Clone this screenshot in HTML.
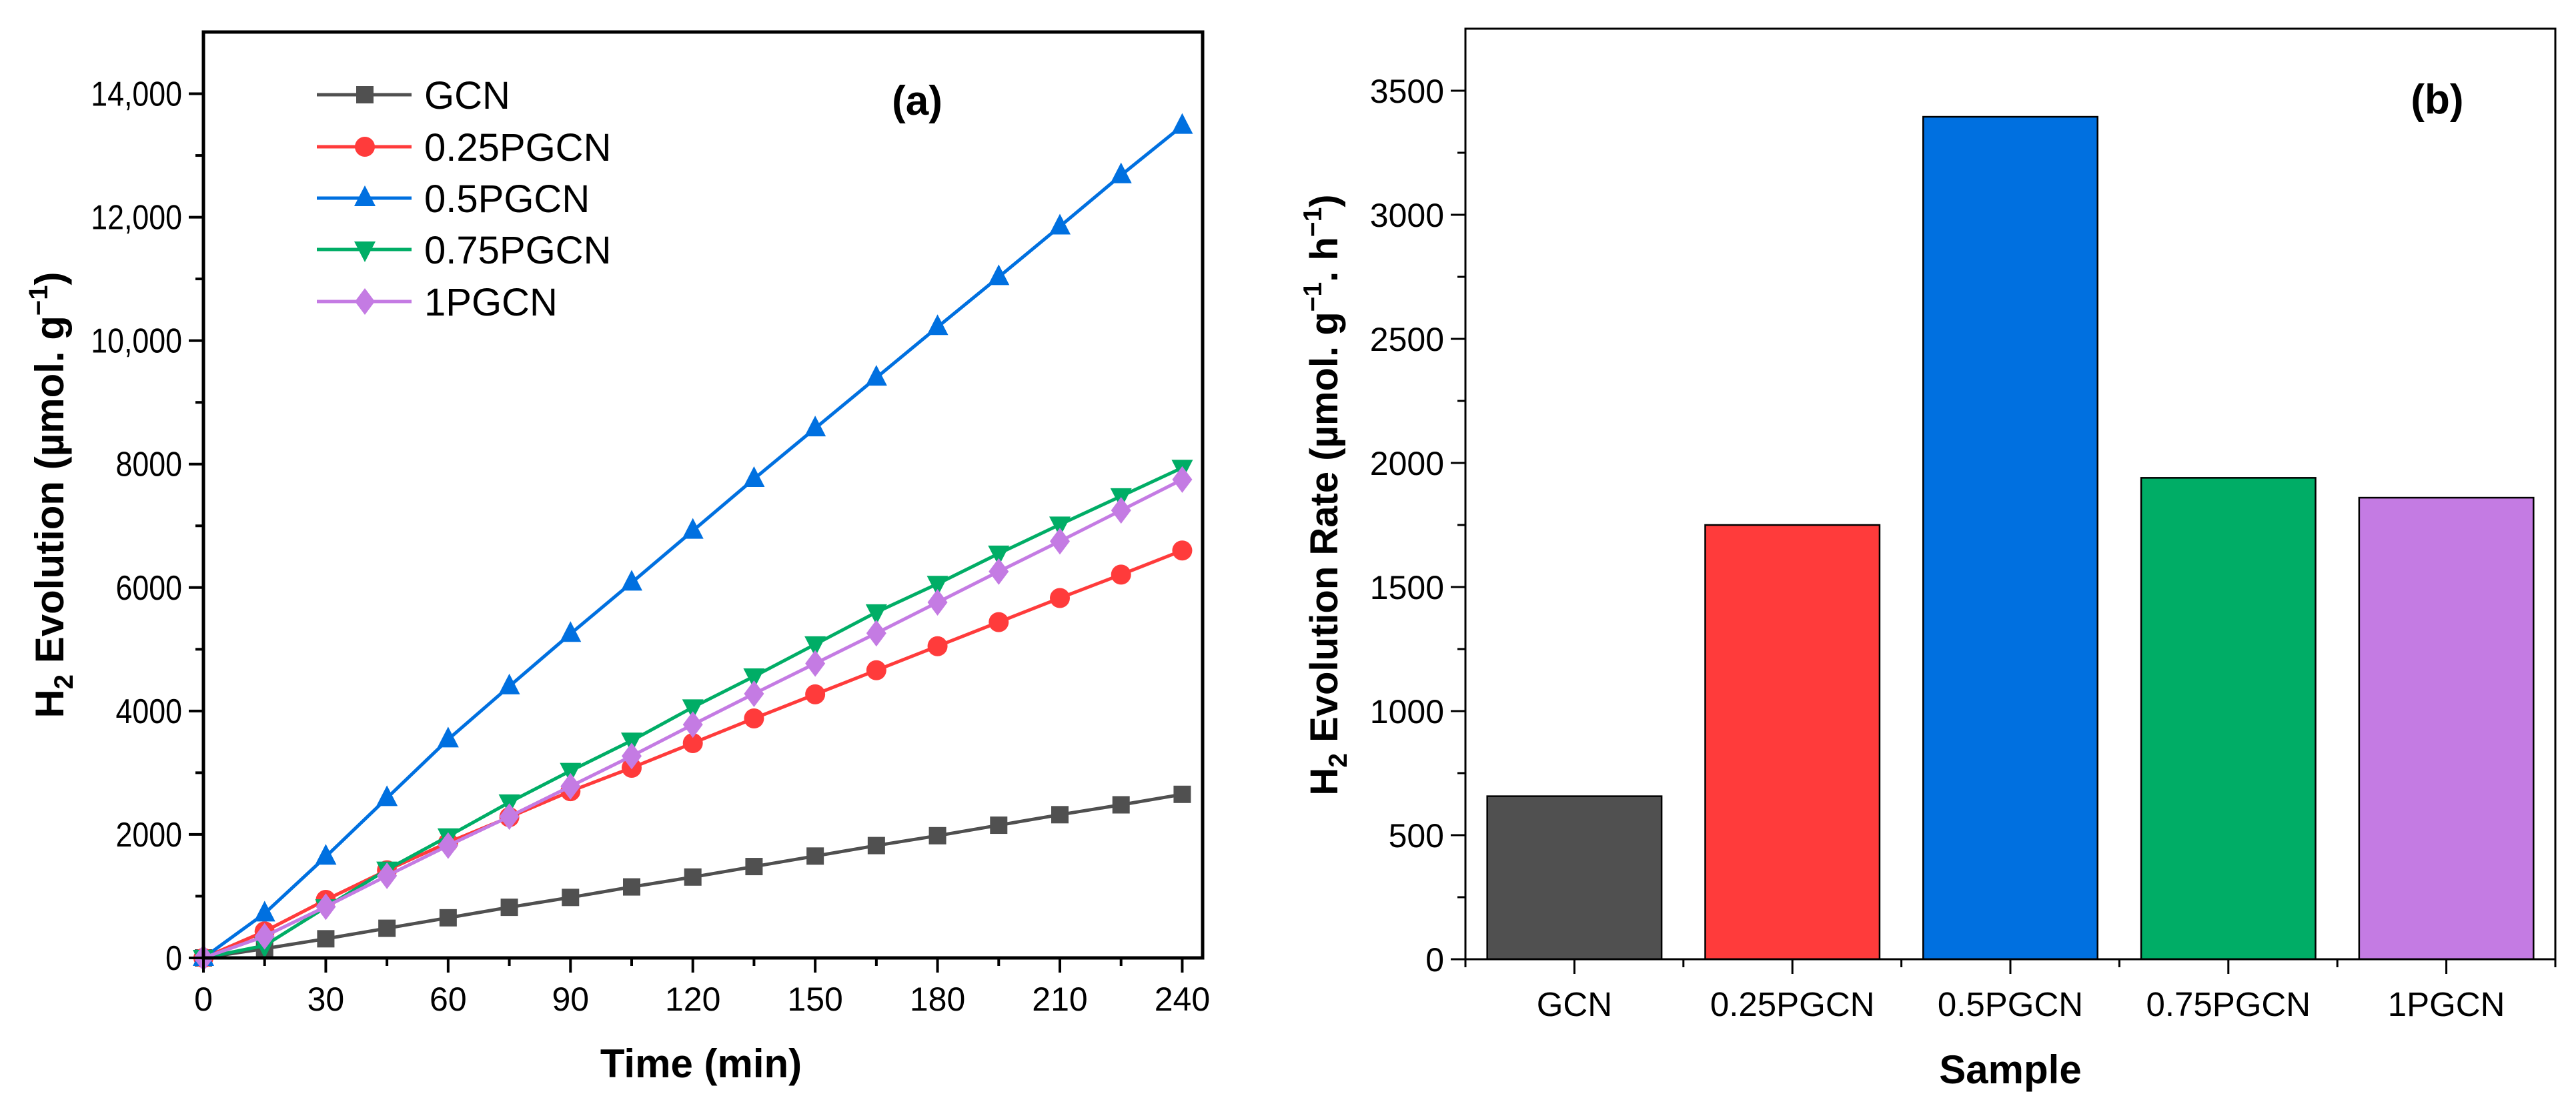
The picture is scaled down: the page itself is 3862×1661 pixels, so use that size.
<!DOCTYPE html>
<html><head><meta charset="utf-8"><style>
body{margin:0;background:#fff}
svg{display:block}
text{font-family:"Liberation Sans",Arial,sans-serif;fill:#000}
</style></head><body>
<svg id="c" width="3862" height="1661" viewBox="0 0 3862 1661" xmlns="http://www.w3.org/2000/svg"></svg>
<script>
const times=[0,15,30,45,60,75,90,105,120,135,150,165,180,195,210,225,240];
const gcn=[0,150,310,480,650,820,980,1150,1310,1480,1650,1820,1980,2150,2320,2480,2650];
const p025=[0,430,940,1420,1870,2280,2700,3080,3480,3880,4270,4660,5050,5440,5830,6210,6600];
const p05=[0,720,1640,2590,3540,4400,5250,6080,6920,7760,8580,9400,10220,11030,11850,12680,13480];
const p075=[0,200,820,1430,1970,2520,3030,3520,4060,4560,5080,5600,6060,6550,7020,7480,7940];
const p1=[0,350,830,1330,1820,2290,2780,3270,3780,4280,4770,5260,5760,6260,6750,7250,7750];
const seriesNames=["GCN","0.25PGCN","0.5PGCN","0.75PGCN","1PGCN"];
const xTicksA=[0,30,60,90,120,150,180,210,240];
const yTicksA=[0,2000,4000,6000,8000,10000,12000,14000];
const yTickLabelsA=["0","2000","4000","6000","8000","10,000","12,000","14,000"];
const barCats=["GCN","0.25PGCN","0.5PGCN","0.75PGCN","1PGCN"];
const barVals=[657,1750,3395,1940,1860];
const yTicksB=[0,500,1000,1500,2000,2500,3000,3500];

const NS="http://www.w3.org/2000/svg";
const svg=document.getElementById('c');
function el(tag,attrs,parent){const e=document.createElementNS(NS,tag);for(const k in attrs)e.setAttribute(k,attrs[k]);(parent||svg).appendChild(e);return e;}
function txt(s,attrs,parent){const e=el('text',attrs,parent);e.textContent=s;return e;}
const colors=["#505050","#ff3b3b","#0070e0","#00ad66","#c47be3"];
const seriesData=[gcn,p025,p05,p075,p1];
const markers=["square","circle","up","down","diamond"];

// ---- Plot A ----
const A={l:305,r:1803,t:48,b:1436,x0:0,x1:245,y0:0,y1:15000};
const ax=v=>A.l+(v-A.x0)/(A.x1-A.x0)*(A.r-A.l);
const ay=v=>A.b-(v-A.y0)/(A.y1-A.y0)*(A.b-A.t);
const gA=el('g',{});


function marker(type,x,y,c,g){
  let m;
  if(type==="square") m=el('rect',{x:x-13,y:y-13,width:26,height:26,fill:c},g);
  else if(type==="circle") m=el('circle',{cx:x,cy:y,r:15,fill:c},g);
  else if(type==="up") m=el('polygon',{points:`${x},${y-19} ${x-16},${y+12} ${x+16},${y+12}`,fill:c},g);
  else if(type==="down") m=el('polygon',{points:`${x},${y+19} ${x-16},${y-12} ${x+16},${y-12}`,fill:c},g);
  else m=el('polygon',{points:`${x},${y-20} ${x+15},${y} ${x},${y+20} ${x-15},${y}`,fill:c},g);
  return m;
}
// series
seriesData.forEach((d,i)=>{
  const g=el('g',{},gA);
  
  
  const pts=d.map((v,j)=>ax(times[j])+','+ay(v)).join(' ');
  el('polyline',{points:pts,fill:'none',stroke:colors[i],'stroke-width':5},g);
  d.forEach((v,j)=>{const m=marker(markers[i],ax(times[j]),ay(v),colors[i],g);
    
    });
});
// frame
const fA=el('rect',{x:A.l,y:A.t,width:A.r-A.l,height:A.b-A.t,fill:'none',stroke:'#000','stroke-width':5},gA);


// x ticks
for(let t=0;t<=240;t+=15){const major=t%30===0;el('line',{x1:ax(t),x2:ax(t),y1:A.b,y2:A.b+(major?22:12),stroke:'#000','stroke-width':4},gA);}
xTicksA.forEach(t=>{const e=txt(String(t),{x:ax(t),y:1515,'font-size':50,'text-anchor':'middle'},gA);
  
  });
// y ticks
for(let v=0;v<=14000;v+=1000){const major=v%2000===0;el('line',{x1:A.l,x2:A.l-(major?22:12),y1:ay(v),y2:ay(v),stroke:'#000','stroke-width':4},gA);}
yTicksA.forEach((v,i)=>{const e=txt(yTickLabelsA[i],{x:0,y:0,'font-size':52,'text-anchor':'end',transform:`translate(${A.l-32},${ay(v)+18}) scale(0.86,1)`},gA);
  
  });
// titles
let e=txt('Time (min)',{x:1051,y:1615,'font-size':60,'font-weight':'bold','text-anchor':'middle'},gA);


e=el('text',{'font-size':60,'font-weight':'bold','text-anchor':'middle',transform:`translate(95,742) rotate(-90)`},gA);
e.innerHTML='H<tspan font-size="40" dy="14">2</tspan><tspan dy="-14"> Evolution (µmol. g</tspan><tspan font-size="40" dy="-24">−1</tspan><tspan dy="24">)</tspan>';


e=txt('(a)',{x:1375,y:172,'font-size':62,'font-weight':'bold','text-anchor':'middle'},gA);


// legend
const lg=el('g',{},gA);


const legY=[142,220,297,374,452];
seriesNames.forEach((n,i)=>{const g=el('g',{},lg);
  
  
  el('line',{x1:475,x2:617,y1:legY[i],y2:legY[i],stroke:colors[i],'stroke-width':5},g);
  marker(markers[i],547,legY[i],colors[i],g);
  txt(n,{x:636,y:legY[i]+21,'font-size':58},g);});

// ---- Plot B ----
const B={l:2197,r:3831,t:43,b:1438,y0:0,y1:3750};
const by=v=>B.b-(v-B.y0)/(B.y1-B.y0)*(B.b-B.t);
const step=(B.r-B.l)/barCats.length;
const bx=i=>B.l+step*(i+0.5);
const gB=el('g',{});


barVals.forEach((v,i)=>{const w=step*0.8;
  const r=el('rect',{x:bx(i)-w/2,y:by(v),width:w,height:B.b-by(v),fill:colors[i],stroke:'#000','stroke-width':2.5},gB);
  
  });
const fB=el('rect',{x:B.l,y:B.t,width:B.r-B.l,height:B.b-B.t,fill:'none',stroke:'#000','stroke-width':3},gB);


for(let v=0;v<=3500;v+=250){const major=v%500===0;el('line',{x1:B.l,x2:B.l-(major?22:12),y1:by(v),y2:by(v),stroke:'#000','stroke-width':3},gB);}
yTicksB.forEach(v=>{const t=txt(String(v),{x:B.l-32,y:by(v)+18,'font-size':50,'text-anchor':'end'},gB);
  
  });
barCats.forEach((c,i)=>{el('line',{x1:bx(i),x2:bx(i),y1:B.b,y2:B.b+22,stroke:'#000','stroke-width':3},gB);
  el('line',{x1:B.l+step*i,x2:B.l+step*i,y1:B.b,y2:B.b+12,stroke:'#000','stroke-width':3},gB);
  const t=txt(c,{x:bx(i),y:1523,'font-size':51,'text-anchor':'middle'},gB);
  
  });
el('line',{x1:B.r,x2:B.r,y1:B.b,y2:B.b+12,stroke:'#000','stroke-width':3},gB);
e=txt('Sample',{x:3014,y:1624,'font-size':60,'font-weight':'bold','text-anchor':'middle'},gB);


e=el('text',{'font-size':58,'font-weight':'bold','text-anchor':'middle',transform:`translate(2005,742) rotate(-90)`},gB);
e.innerHTML='H<tspan font-size="39" dy="14">2</tspan><tspan dy="-14"> Evolution Rate (µmol. g</tspan><tspan font-size="39" dy="-24">−1</tspan><tspan dy="24">. h</tspan><tspan font-size="39" dy="-24">−1</tspan><tspan dy="24">)</tspan>';


e=txt('(b)',{x:3654,y:170,'font-size':62,'font-weight':'bold','text-anchor':'middle'},gB);


</script>
</body></html>
